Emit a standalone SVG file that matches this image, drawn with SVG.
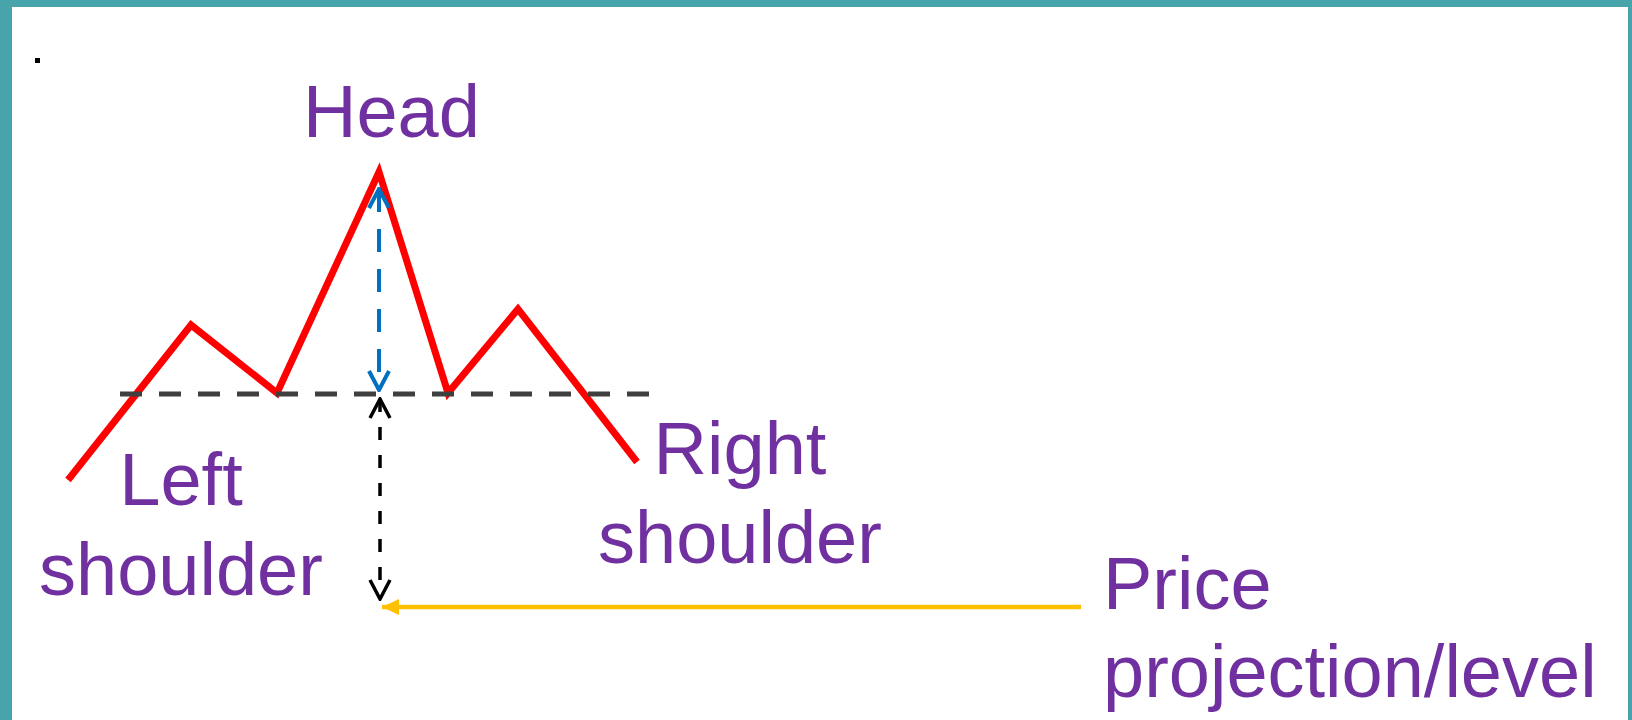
<svg xmlns="http://www.w3.org/2000/svg" width="1632" height="720" viewBox="0 0 1632 720">
<style>
.lbl{font-family:"Liberation Sans",Arial,sans-serif;font-size:74px;fill:#7030A0}
.border{fill:#46A4AA}
</style>
<defs>
<marker id="vBlue" markerUnits="userSpaceOnUse" viewBox="-22 -12 24 24" refX="0" refY="0" markerWidth="24" markerHeight="24" orient="auto-start-reverse">
<path d="M-19,-10 L0,0 L-19,10" fill="none" stroke="#0070C0" stroke-width="4" stroke-linejoin="miter"/>
</marker>
<marker id="vBlack" markerUnits="userSpaceOnUse" viewBox="-22 -12 24 24" refX="0" refY="0" markerWidth="24" markerHeight="24" orient="auto-start-reverse">
<path d="M-19,-10 L0,0 L-19,10" fill="none" stroke="#000" stroke-width="3.5"/>
</marker>
<marker id="triYellow" markerUnits="userSpaceOnUse" viewBox="-18 -9 20 18" refX="0" refY="0" markerWidth="20" markerHeight="18" orient="auto">
<path d="M-17,-8 L0,0 L-17,8 Z" fill="#FFC000"/>
</marker>
</defs>
<rect width="1632" height="720" fill="#fff"/>
<g id="frame">
<rect class="border" x="0" y="0" width="1632" height="7"/>
<rect class="border" x="0" y="0" width="12" height="720"/>
<rect class="border" x="1628" y="0" width="4" height="720"/>
<rect x="35" y="58" width="5" height="5" fill="#000"/>
</g>
<g id="price-line">
<polyline points="68,480 191,325 277,393 379,172 448,393 518,309 637,462" fill="none" stroke="#FF0000" stroke-width="7" stroke-linejoin="miter" stroke-miterlimit="10"/>
</g>
<g id="connectors">
<line x1="120" y1="394" x2="650" y2="394" stroke="#3F3F3F" stroke-width="5" stroke-dasharray="22 17"/>
<line x1="379" y1="189" x2="379" y2="390" stroke="#0070C0" stroke-width="4" stroke-dasharray="23 17" marker-start="url(#vBlue)" marker-end="url(#vBlue)"/>
<line x1="380" y1="399" x2="380" y2="599" stroke="#000" stroke-width="3.5" stroke-dasharray="13 15" marker-start="url(#vBlack)" marker-end="url(#vBlack)"/>
<line x1="1081" y1="607" x2="382" y2="607" stroke="#FFC000" stroke-width="4.5" marker-end="url(#triYellow)"/>
</g>
<g id="head-label"><text class="lbl" x="303" y="137">Head</text></g>
<g id="left-shoulder-label"><text class="lbl" text-anchor="middle"><tspan x="181" y="505">Left</tspan><tspan x="181" y="595">shoulder</tspan></text></g>
<g id="right-shoulder-label"><text class="lbl" text-anchor="middle"><tspan x="740" y="474">Right</tspan><tspan x="740" y="563">shoulder</tspan></text></g>
<g id="price-label"><text class="lbl"><tspan x="1103" y="609">Price</tspan><tspan x="1103" y="697">projection/level</tspan></text></g>
</svg>
